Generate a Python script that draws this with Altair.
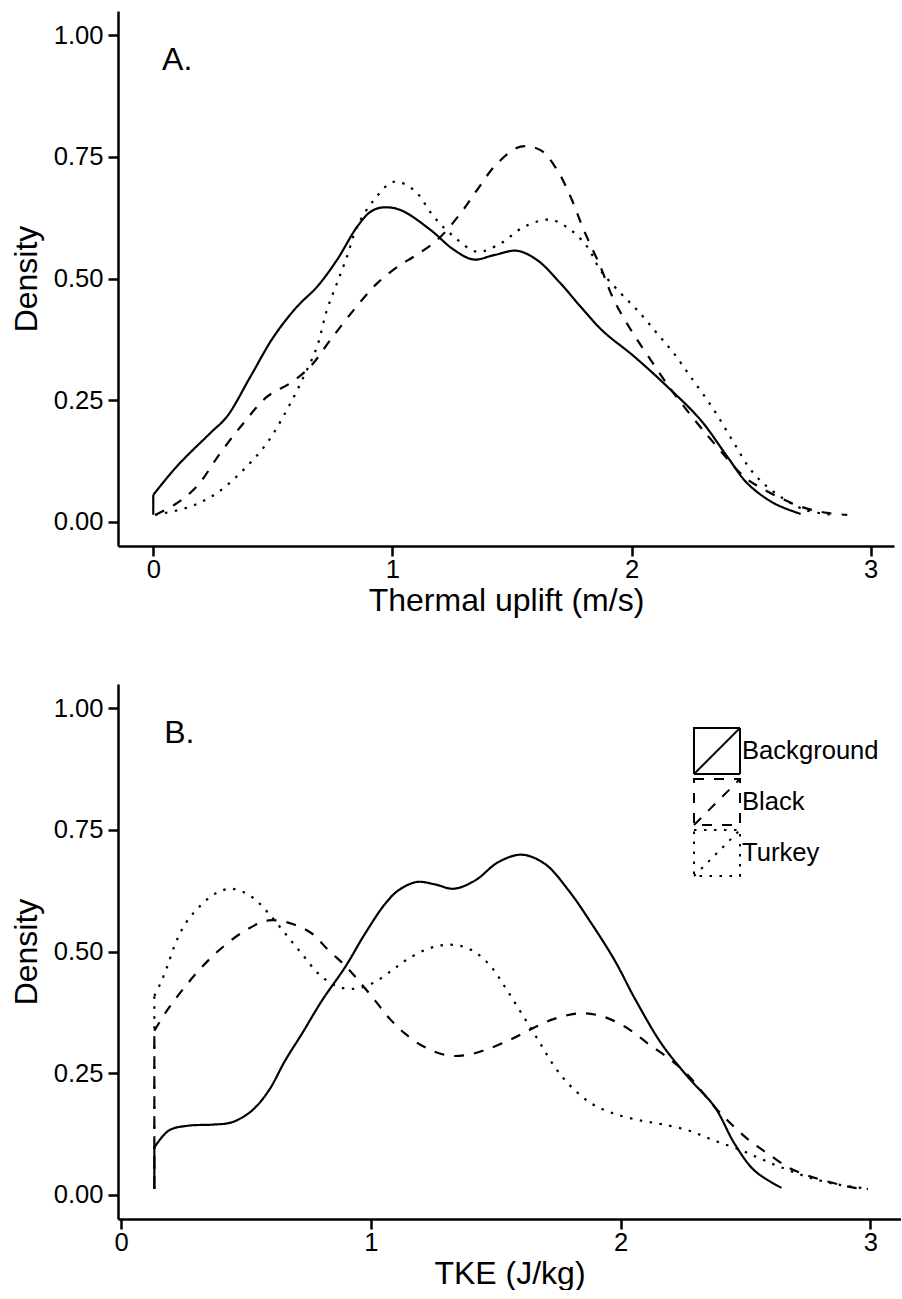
import altair as alt
import pandas as pd

FONT = "Liberation Sans, Arial, Helvetica, sans-serif"
groups = ["Background", "Black", "Turkey"]

# ---- Panel A: Thermal uplift (m/s) ----
a_bg_x = [0.0, 0.0, 0.099, 0.238, 0.308, 0.406, 0.503, 0.601, 0.685, 0.768, 0.852, 0.908, 0.957,
          1.033, 1.159, 1.257, 1.340, 1.424, 1.521, 1.605, 1.703, 1.787, 1.880, 2.010, 2.149,
          2.289, 2.400, 2.484, 2.595, 2.707]
a_bg_y = [0.014, 0.055, 0.114, 0.182, 0.216, 0.298, 0.380, 0.442, 0.483, 0.538, 0.606, 0.637, 0.646,
          0.641, 0.600, 0.559, 0.539, 0.548, 0.557, 0.538, 0.490, 0.442, 0.392, 0.340, 0.278,
          0.209, 0.134, 0.079, 0.038, 0.016]

a_bk_x = [0.008, 0.099, 0.183, 0.280, 0.378, 0.476, 0.573, 0.657, 0.741, 0.838, 0.936, 1.033,
          1.090, 1.187, 1.285, 1.354, 1.437, 1.536, 1.619, 1.689, 1.745, 1.800, 1.870, 1.926,
          2.000, 2.070, 2.163, 2.274, 2.344, 2.470, 2.554, 2.707, 2.818, 2.902]
a_bk_y = [0.014, 0.038, 0.073, 0.141, 0.203, 0.257, 0.285, 0.319, 0.374, 0.435, 0.490, 0.528,
          0.545, 0.579, 0.634, 0.682, 0.736, 0.771, 0.764, 0.723, 0.668, 0.600, 0.524, 0.456,
          0.392, 0.340, 0.273, 0.203, 0.162, 0.093, 0.066, 0.031, 0.018, 0.014]

a_tk_x = [0.008, 0.155, 0.266, 0.378, 0.476, 0.559, 0.629, 0.685, 0.726, 0.768, 0.810, 0.852,
          0.922, 1.006, 1.090, 1.173, 1.257, 1.354, 1.452, 1.550, 1.661, 1.745, 1.815, 1.870,
          1.954, 2.024, 2.107, 2.177, 2.247, 2.344, 2.428, 2.498, 2.582, 2.721, 2.850]
a_tk_y = [0.014, 0.031, 0.059, 0.107, 0.162, 0.230, 0.298, 0.360, 0.435, 0.490, 0.545, 0.606,
          0.661, 0.699, 0.682, 0.627, 0.586, 0.555, 0.572, 0.606, 0.621, 0.600, 0.565, 0.517,
          0.470, 0.435, 0.387, 0.346, 0.298, 0.230, 0.162, 0.107, 0.066, 0.025, 0.014]

# ---- Panel B: TKE (J/kg) ----
b_bg_x = [0.133, 0.133, 0.191, 0.271, 0.364, 0.444, 0.524, 0.591, 0.657, 0.724, 0.804, 0.897,
          0.977, 1.057, 1.111, 1.184, 1.257, 1.331, 1.417, 1.511, 1.604, 1.697, 1.791, 1.884,
          1.977, 2.057, 2.164, 2.271, 2.377, 2.457, 2.537, 2.644]
b_bg_y = [0.012, 0.097, 0.132, 0.142, 0.144, 0.149, 0.173, 0.214, 0.276, 0.331, 0.399, 0.468,
          0.537, 0.598, 0.626, 0.643, 0.638, 0.629, 0.646, 0.684, 0.699, 0.680, 0.626, 0.557,
          0.481, 0.403, 0.310, 0.241, 0.180, 0.104, 0.049, 0.014]

b_bk_x = [0.133, 0.133, 0.184, 0.244, 0.311, 0.391, 0.497, 0.591, 0.684, 0.764, 0.831, 0.897,
          0.951, 1.017, 1.075, 1.137, 1.217, 1.311, 1.391, 1.471, 1.564, 1.644, 1.737, 1.844,
          1.937, 2.031, 2.111, 2.204, 2.271, 2.377, 2.457, 2.524, 2.591, 2.671, 2.751, 2.844,
          2.937, 2.990]
b_bk_y = [0.012, 0.337, 0.379, 0.420, 0.461, 0.502, 0.543, 0.564, 0.557, 0.537, 0.502, 0.471,
          0.440, 0.399, 0.362, 0.331, 0.303, 0.286, 0.288, 0.300, 0.320, 0.341, 0.362, 0.373,
          0.365, 0.341, 0.310, 0.276, 0.245, 0.180, 0.138, 0.108, 0.084, 0.056, 0.039, 0.025,
          0.014, 0.012]

b_tk_x = [0.133, 0.133, 0.157, 0.184, 0.217, 0.257, 0.311, 0.377, 0.444, 0.524, 0.591, 0.657,
          0.724, 0.791, 0.857, 0.924, 1.004, 1.084, 1.137, 1.231, 1.311, 1.391, 1.471, 1.537,
          1.604, 1.671, 1.737, 1.804, 1.884, 1.977, 2.084, 2.164, 2.271, 2.377, 2.484, 2.564,
          2.644, 2.751, 2.857, 2.964]
b_tk_y = [0.012, 0.409, 0.434, 0.468, 0.516, 0.557, 0.591, 0.619, 0.629, 0.612, 0.578, 0.537,
          0.495, 0.454, 0.430, 0.423, 0.434, 0.461, 0.481, 0.506, 0.514, 0.506, 0.475, 0.427,
          0.372, 0.317, 0.262, 0.221, 0.187, 0.166, 0.152, 0.145, 0.132, 0.111, 0.091, 0.073,
          0.056, 0.036, 0.022, 0.014]

y_ticks = [0, 0.25, 0.5, 0.75, 1.0]
x_ticks = [0, 1, 2, 3]
panel_labels = ["A.", "B."]
label_x = [0.1, 0.233]
label_y = [0.95, 0.95]


def frames(series):
    """Curve points, plus the straight vertical edge where a curve starts with two equal x."""
    rows, edges = [], []
    for g, xs, ys in series:
        start = 0
        if len(xs) > 1 and xs[0] == xs[1]:
            edges.append({"group": g, "x": xs[0], "y": ys[0], "y2": ys[1]})
            start = 1
        for i in range(start, len(xs)):
            rows.append({"group": g, "x": xs[i], "y": ys[i], "i": i})
    return pd.DataFrame(rows), pd.DataFrame(edges, columns=["group", "x", "y", "y2"])


dfA, edA = frames([("Background", a_bg_x, a_bg_y), ("Black", a_bk_x, a_bk_y), ("Turkey", a_tk_x, a_tk_y)])
dfB, edB = frames([("Background", b_bg_x, b_bg_y), ("Black", b_bk_x, b_bk_y), ("Turkey", b_tk_x, b_tk_y)])

dash_scale = alt.Scale(domain=groups, range=[[1, 0], [10, 10], [2.5, 7.5]])

LEG_PATH = "M-1,-1L1,-1L1,1L-1,1Z M-1,1L1,-1"


def panel(df, ed, xdom, xtitle, width, label, lx, ly, show_legend):
    if show_legend:
        legend = alt.Legend(
            title=None, orient="none", legendX=575, legendY=43,
            symbolType=LEG_PATH, symbolSize=2116, symbolStrokeWidth=2,
            symbolStrokeColor="black", symbolFillColor="transparent",
            labelFont=FONT, labelFontSize=25.6, labelColor="black",
            labelOffset=1, rowPadding=-20, padding=0, symbolOffset=0,
            labelBaseline="middle",
        )
    else:
        legend = None
    x_axis = alt.Axis(values=x_ticks, format="d", title=xtitle, grid=False,
                      domainColor="black", domainWidth=2.5, tickColor="black",
                      tickWidth=2.5, tickSize=10, labelFont=FONT, labelFontSize=25.6,
                      labelColor="black", labelPadding=1, titleFont=FONT,
                      titleFontSize=32, titleFontWeight="normal", titleColor="black",
                      titlePadding=3)
    y_axis = alt.Axis(values=y_ticks, format=".2f", title="Density", grid=False,
                      domainColor="black", domainWidth=2.5, tickColor="black",
                      tickWidth=2.5, tickSize=10, labelFont=FONT, labelFontSize=25.6,
                      labelColor="black", labelPadding=5, titleFont=FONT,
                      titleFontSize=32, titleFontWeight="normal", titleColor="black",
                      titlePadding=10)
    xs = alt.Scale(domain=xdom, nice=False, zero=False)
    ys = alt.Scale(domain=[-0.05, 1.05], nice=False, zero=False)
    lines = alt.Chart(df).mark_line(color="black", strokeWidth=2.2, strokeCap="butt",
                                    interpolate="catmull-rom").encode(
        x=alt.X("x:Q", scale=xs, axis=x_axis),
        y=alt.Y("y:Q", scale=ys, axis=y_axis),
        strokeDash=alt.StrokeDash("group:N", scale=dash_scale, legend=legend),
        order=alt.Order("i:Q"),
        detail="group:N",
    )
    edges = alt.Chart(ed).mark_rule(color="black", strokeWidth=2.2, strokeCap="butt").encode(
        x=alt.X("x:Q", scale=xs, axis=x_axis),
        y=alt.Y("y:Q", scale=ys, axis=y_axis),
        y2="y2:Q",
        strokeDash=alt.StrokeDash("group:N", scale=dash_scale, legend=legend),
    )
    lab_df = pd.DataFrame({"t": [label], "x": [lx], "y": [ly]})
    txt = alt.Chart(lab_df).mark_text(font=FONT, fontSize=32, color="black",
                                      align="center", baseline="middle").encode(
        x="x:Q", y="y:Q", text="t:N")
    return alt.layer(lines, edges, txt).properties(width=width, height=535)


pA = panel(dfA, edA, [-0.1475, 3.0975], "Thermal uplift (m/s)", 776, panel_labels[0], label_x[0], label_y[0], False)
pB = panel(dfB, edB, [-0.0125, 3.1225], "TKE (J/kg)", 783, panel_labels[1], label_x[1], label_y[1], True)

chart = alt.vconcat(pA, pB, spacing=67).resolve_legend(strokeDash="independent").properties(
    padding={"left": 10, "top": 11, "right": 0, "bottom": 0}
).configure(background="white", view=alt.ViewConfig(stroke=None))

chart.save("out.html", embed_options={"renderer": "svg", "actions": False})
